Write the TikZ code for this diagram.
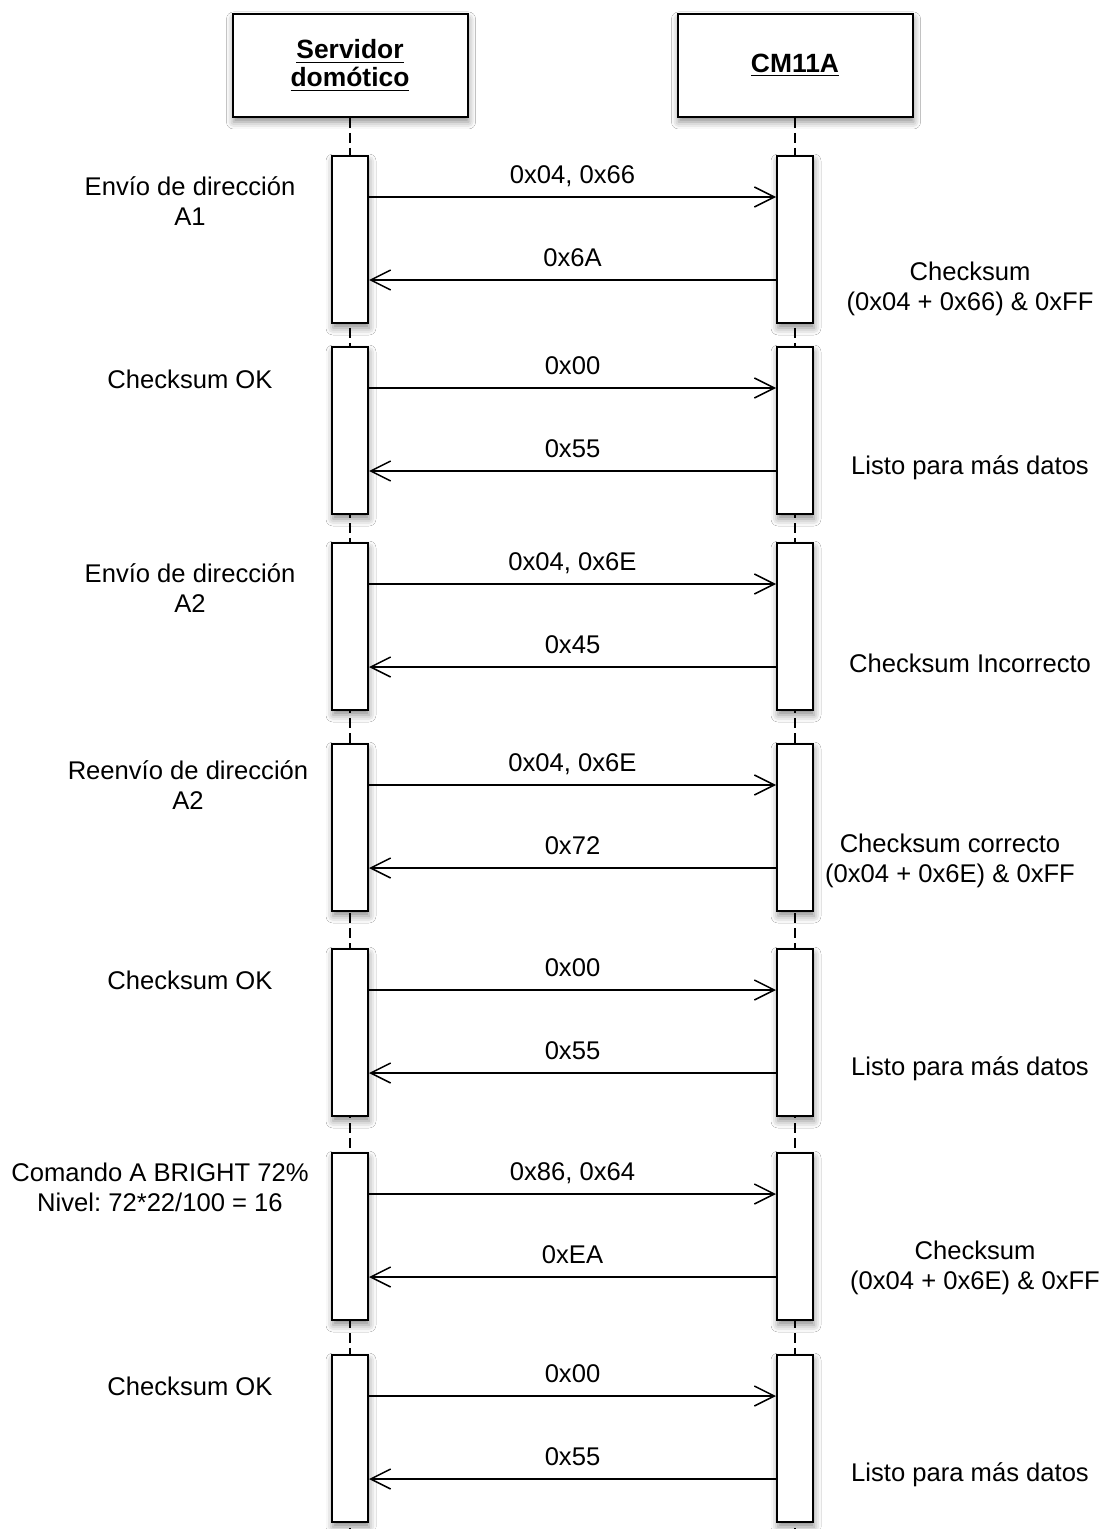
\documentclass[tikz,border=0pt]{standalone}
\usepackage{fontspec}
\setmainfont{Liberation Sans}
\usepackage{tikz}
\usetikzlibrary{arrows.meta, positioning, shadows.blur}
\frenchspacing

\begin{document}
\begin{tikzpicture}[
  x=0.5pt, y=-0.5pt,
  font=\fontsize{12.8}{15}\selectfont,
  shade/.style={blur shadow={shadow xshift=0.5pt, shadow yshift=-2.5pt,
                shadow blur radius=3.5pt, shadow opacity=45}},
  actor/.style={draw, line width=1pt, fill=white, shade, align=center,
                minimum width=117.5pt, minimum height=51.5pt,
                font=\fontsize{13.2}{14}\selectfont\bfseries},
  act/.style={draw, line width=1pt, fill=white, shade, anchor=north,
              inner sep=0pt, minimum width=18pt, minimum height=83.5pt},
  life/.style={line width=0.75pt, dash pattern=on 5pt off 2.5pt},
  msg/.style={-{Straight Barb[length=10pt,width=10pt]}, line width=0.75pt},
  lbl/.style={anchor=base, yshift=6.8pt},
  note/.style={align=center}
]
\useasboundingbox[fill=white] (0,0) rectangle (1110,1529);

\node[actor] (srv) at (350,65.5) {\underline{Servidor}\\\underline{domótico}};
\node[actor] (cm) at (795,65.5) {\underline{CM11A}};
\coordinate (srvend) at (350,1529);
\coordinate (cmend) at (795,1529);
\draw[life] (srv.south) -- (srvend);
\draw[life] (cm.south) -- (cmend);

% activations and messages
\foreach \n/\y/\p/\q in {1/155/{0x04, 0x66}/0x6A, 2/346/0x00/0x55,
                         3/542/{0x04, 0x6E}/0x45, 4/743/{0x04, 0x6E}/0x72,
                         5/948/0x00/0x55, 6/1152/{0x86, 0x64}/0xEA,
                         7/1354/0x00/0x55} {
  \node[act] (s\n) at (350,\y) {};
  \node[act] (c\n) at (795,\y) {};
  \draw[msg] ([yshift=-21pt]s\n.north east) -- ([yshift=-21pt]c\n.north west)
    node[midway, lbl] {\p};
  \draw[msg] ([yshift=-62.5pt]c\n.north west) -- ([yshift=-62.5pt]s\n.north east)
    node[midway, lbl] {\q};
}

% server side
\node[note] (l1) at (190,201.5) {Envío de dirección\\A1};
\node[note] (l2) at (190,379) {Checksum OK};
\node[note] (l3) at (190,588.5) {Envío de dirección\\A2};
\node[note] (l4) at (188,785.5) {Reenvío de dirección\\A2};
\node[note] (l5) at (190,980) {Checksum OK};
\node[note] (l6) at (160,1187.5) {Comando A BRIGHT 72\%\\Nivel: 72*22/100 = 16};
\node[note] (l7) at (190,1386) {Checksum OK};

% CM11A side
\node[note] (r1) at (970,288.5) {Checksum\\(0x04 + 0x66) \& 0xFF};
\node[note] (r2) at (970,468) {Listo para más datos};
\node[note] (r3) at (970,663) {Checksum Incorrecto};
\node[note] (r4) at (950,861) {Checksum correcto\\(0x04 + 0x6E) \& 0xFF};
\node[note] (r5) at (970,1069) {Listo para más datos};
\node[note] (r6) at (975,1268) {Checksum\\(0x04 + 0x6E) \& 0xFF};
\node[note] (r7) at (970,1475) {Listo para más datos};
\end{tikzpicture}
\end{document}
